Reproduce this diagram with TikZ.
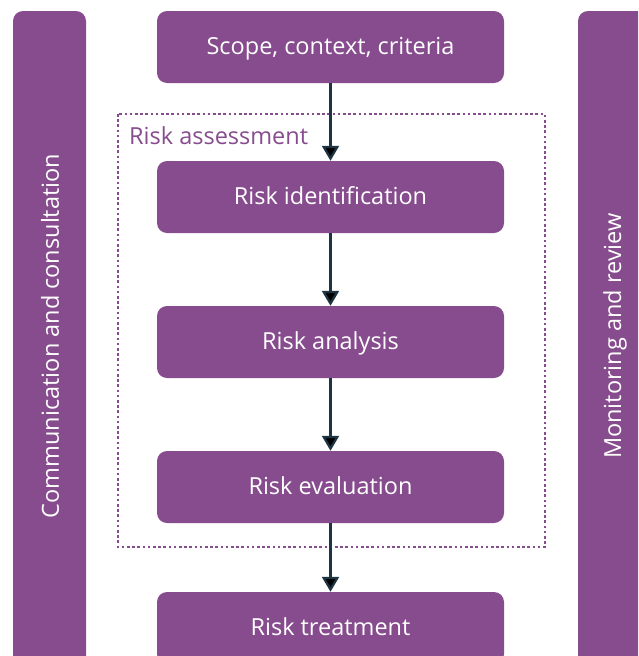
\documentclass[tikz,border=0pt]{standalone}
\usepackage{fontspec}
\setmainfont{Open Sans}
\usetikzlibrary{arrows.meta, positioning}
\definecolor{riskpurple}{RGB}{135,76,142}
\definecolor{arrowdark}{RGB}{30,52,66}

\begin{document}
\begin{tikzpicture}[x=1pt,y=-1pt,node distance=145pt,on grid]
    \tikzstyle{stage}=[shape=rectangle,rounded corners=10pt,fill=riskpurple,text=white,minimum width=347pt,minimum height=72pt,inner sep=0pt,text height=18pt,text depth=4pt,font=\fontsize{23.5}{28}\selectfont]
    \tikzstyle{sidebar}=[shape=rectangle,rounded corners=10pt,fill=riskpurple,rotate=90,minimum width=720pt,minimum height=73pt,inner sep=0pt]
    \tikzstyle{sidetext}=[rotate=90,text=white,font=\fontsize{23.5}{28}\selectfont]
    \tikzstyle{flow}=[-{Triangle[width=17pt,length=15pt]},draw=arrowdark,line width=2.2pt]

    \useasboundingbox (0,0) rectangle (638,656);
    \clip (0,0) rectangle (638,656);

    % side bars
    \node[sidebar] (comm) at (49.5,371) {};
    \node[sidebar] (monitor) at (614.5,371) {};
    \node[sidetext] (commtext) at (50,336) {Communication and consultation};
    \node[sidetext] (monitortext) at (615,336) {Monitoring and review};

    % assessment frame
    \draw[riskpurple,line width=2.6pt,dash pattern=on 2.6pt off 2.6pt] (118,114) rectangle (545,547);
    \node[anchor=west,text=riskpurple,inner sep=0pt,font=\fontsize{23.5}{28}\selectfont] (assess) at (129,136) {Risk assessment};

    % process steps
    \node[stage] (scope) at (330.5,47) {Scope, context, criteria};
    \node[stage,below=150pt of scope] (ident) {Risk identification};
    \node[stage,below=of ident] (analysis) {Risk analysis};
    \node[stage,below=of analysis] (eval) {Risk evaluation};
    \node[stage,below=141pt of eval] (treat) {Risk treatment};

    \path[flow]
    (scope) edge (ident)
    (ident) edge (analysis)
    (analysis) edge (eval)
    (eval) edge (treat)
    ;
\end{tikzpicture}
\end{document}
